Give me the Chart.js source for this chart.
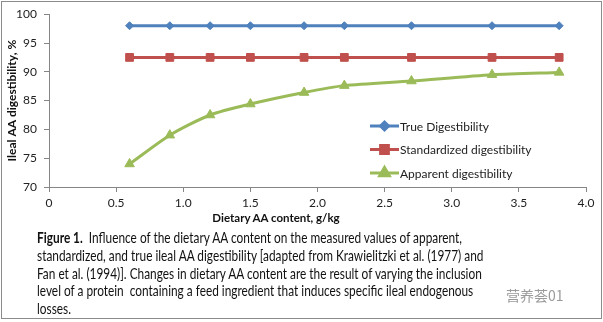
<!DOCTYPE html>
<html>
<head>
<meta charset="utf-8">
<script src="https://cdn.jsdelivr.net/npm/chart.js@4"></script>
<style>
  html, body { margin: 0; padding: 0; background: #fff; }
  #frame {
    position: relative; width: 599px; height: 316px;
    margin: 1px 0 0 1px; border: 1px solid #8c8c8c; overflow: hidden;
  }
  #chartBox { position: absolute; left: -1px; top: -2px; width: 603px; height: 228px; }
  #xTitle {
    position: absolute; left: 0; top: 209px; width: 548px; text-align: center;
    font: bold 11.5px Lato, sans-serif; color: #111;
  }
  #caption {
    position: absolute; left: 35px; top: 227px; width: 700px;
    font: 15px Lato, sans-serif; line-height: 17.8px; color: #111;
    transform: scaleX(0.79); transform-origin: left top; white-space: nowrap;
  }
  #caption b { font-weight: bold; }
  #mark {
    position: absolute; left: 502px; top: 283px;
    font: 14px "Noto Sans CJK SC", sans-serif; color: #9a9a9a;
    background: rgba(255,255,255,0.85); padding: 0 2px;
  }
</style>
</head>
<body>
<div id="frame">
  <div id="chartBox"><canvas id="graphCanvas"></canvas></div>
  <div id="xTitle">Dietary AA content, g/kg</div>
  <div id="caption">
    <b>Figure 1.</b>&nbsp; Influence of the dietary AA content on the measured values of apparent,<br>
    standardized, and true ileal AA digestibility [adapted from Krawielitzki et al. (1977) and<br>
    Fan et al. (1994)]. Changes in dietary AA content are the result of varying the inclusion<br>
    level of a protein&nbsp; containing a feed ingredient that induces specific ileal endogenous<br>
    losses.
  </div>
  <div id="mark">营养荟01</div>
</div>
<script>
// dietary AA content, g/kg
let aa_content = [0.6, 0.9, 1.2, 1.5, 1.9, 2.2, 2.7, 3.3, 3.8];
// ileal digestibility, %
let true_dig = [98, 98, 98, 98, 98, 98, 98, 98, 98];
let standardized_dig = [92.5, 92.5, 92.5, 92.5, 92.5, 92.5, 92.5, 92.5, 92.5];
let apparent_dig = [74, 79, 82.5, 84.4, 86.4, 87.6, 88.4, 89.5, 89.9];

let series_names = ["True Digestibility", "Standardized digestibility", "Apparent digestibility"];
let series_colors = ["#4F81BD", "#C0504D", "#9BBB59"];
let series_shapes = ["rectRot", "rect", "triangle"];
let series_radius = [4, 5.5, 5.5];

const ctx = document.getElementById("graphCanvas").getContext("2d");

function toPoints(values) {
    return values.map((v, i) => ({x: aa_content[i], y: v}));
}

let datasets = [true_dig, standardized_dig, apparent_dig].map((vals, i) => ({
    label: series_names[i],
    data: toPoints(vals),
    borderColor: series_colors[i],
    backgroundColor: series_colors[i],
    borderWidth: 3,
    pointStyle: series_shapes[i],
    pointRadius: series_radius[i],
    pointBorderWidth: 1,
    pointBorderColor: series_colors[i],
    tension: 0.25,
}));

// legend drawn inside the plot area, lower right
const insideLegend = {
    id: "insideLegend",
    afterDraw(chart) {
        const c = chart.ctx;
        const x0 = 369, y0 = 126, rowGap = 23.5;
        c.save();
        c.font = "12px Lato, sans-serif";
        c.textBaseline = "middle";
        chart.data.datasets.forEach((ds, i) => {
            const y = y0 + i * rowGap;
            c.strokeStyle = ds.borderColor;
            c.lineWidth = 3;
            c.beginPath();
            c.moveTo(x0, y);
            c.lineTo(x0 + 29, y);
            c.stroke();
            c.fillStyle = ds.backgroundColor;
            Chart.helpers.drawPoint(c, {pointStyle: ds.pointStyle, radius: ds.pointRadius, borderWidth: 1}, x0 + 14.5, y);
            c.fillStyle = "#222";
            c.fillText(ds.label, x0 + 30, y + 1);
        });
        c.restore();
    }
};

let chart = new Chart(ctx, {
    type: "line",
    data: { datasets: datasets },
    options: {
        responsive: true,
        maintainAspectRatio: false,
        animation: false,
        layout: { padding: { top: 13, right: 18, left: 0, bottom: 0 } },
        plugins: { legend: { display: false }, tooltip: { enabled: false } },
        scales: {
            x: {
                type: "linear",
                min: 0,
                max: 4,
                afterFit: (scale) => { scale.height = 41; },
                ticks: { stepSize: 0.5, padding: 4, color: "#222", font: { family: "Lato", size: 12 } },
                grid: { display: true, drawOnChartArea: false, tickLength: 5, color: "#868686" },
                border: { color: "#868686" },
            },
            y: {
                min: 70,
                max: 100,
                afterFit: (scale) => { scale.width = 48; },
                ticks: { stepSize: 5, padding: 7, color: "#222", font: { family: "Lato", size: 12 } },
                grid: { display: true, drawOnChartArea: false, tickLength: 5, color: "#868686" },
                border: { color: "#868686" },
                title: {
                    display: true,
                    text: "Ileal AA digestibility, %",
                    color: "#111",
                    font: { family: "Lato", size: 12, weight: "bold" },
                    padding: { top: 4, bottom: 0 },
                },
            },
        },
    },
    plugins: [insideLegend],
});
</script>
</body>
</html>
